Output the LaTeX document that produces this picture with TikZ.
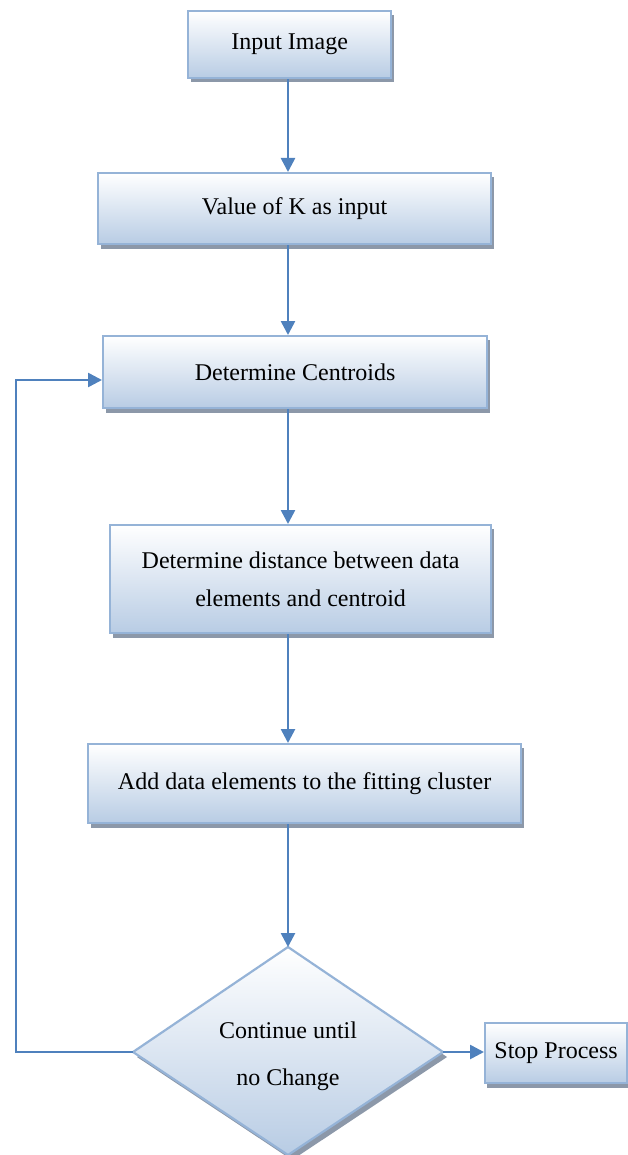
\documentclass[tikz,border=0pt]{standalone}
\usepackage{fontspec}
\setmainfont{Liberation Serif}
\usetikzlibrary{arrows.meta,shapes.geometric}
\definecolor{edgeblue}{HTML}{95B3D7}
\definecolor{fillbot}{HTML}{B8CCE4}
\definecolor{shadowgray}{HTML}{8C98A9}
\definecolor{flowblue}{HTML}{4F81BD}
\tikzset{
  stepbox/.style={draw=edgeblue, line width=2.2pt, top color=white, bottom color=fillbot,
    font=\fontsize{24}{38}\selectfont, align=center, inner sep=0pt, anchor=north west},
  boxshadow/.style={fill=shadowgray, draw=none},
  flow/.style={draw=flowblue, line width=2.6pt, -{Triangle[length=14pt,width=14pt]}},
  flowline/.style={draw=flowblue, line width=2.6pt}
}
\begin{document}
\begin{tikzpicture}[x=1pt,y=-1pt]
\useasboundingbox (0,0) rectangle (628,1155);
% drop shadows behind the boxes
\fill[boxshadow] (191,15) rectangle (394,82);
\fill[boxshadow] (101,177) rectangle (494,249);
\fill[boxshadow] (106,340) rectangle (490,413);
\fill[boxshadow] (113,529) rectangle (494,638);
\fill[boxshadow] (91,748) rectangle (524,828);
\fill[boxshadow] (487,1027) rectangle (631,1088);
\fill[boxshadow] (137,1057) -- (292,952) -- (447,1057) -- (292,1160) -- cycle;
% process boxes
\node[stepbox, minimum width=203pt, minimum height=67pt] (input) at (187,10) {Input Image};
\node[stepbox, minimum width=393pt, minimum height=71pt] (kval) at (97,172) {Value of K as input};
\node[stepbox, minimum width=384pt, minimum height=72pt] (cent) at (102,335) {Determine Centroids};
\node[stepbox, minimum width=381pt, minimum height=108pt] (dist) at (109,524) {Determine distance between data\\elements and centroid};
\node[stepbox, minimum width=433pt, minimum height=79pt] (add) at (87,743) {Add data elements to the fitting cluster};
\node[stepbox, minimum width=142pt, minimum height=60pt] (stop) at (484,1022) {Stop Process};
% decision
\draw[draw=edgeblue, line width=2.2pt, top color=white, bottom color=fillbot]
  (133,1052) coordinate (dl) -- (288,947) coordinate (dt) -- (443,1052) coordinate (dr) -- (288,1155) coordinate (db) -- cycle;
\node[font=\fontsize{24}{47}\selectfont, align=center] (cond) at (288,1056) {Continue until\\no Change};
% connectors
\draw[flow] (input.south -| 288,0) -- (kval.north -| 288,0);
\draw[flow] (kval.south -| 288,0) -- (cent.north -| 288,0);
\draw[flow] (cent.south -| 288,0) -- (dist.north -| 288,0);
\draw[flow] (dist.south -| 288,0) -- (add.north -| 288,0);
\draw[flow] (add.south -| 288,0) -- (dt);
\draw[flow] (dr) -- (stop.west |- dr);
\coordinate (loopbot) at (16,1052);
\coordinate (looptop) at (16,380);
\draw[flowline] (dl) -- (loopbot);
\draw[flow] (16,1053) -- (looptop) -- (cent.west |- looptop);
\end{tikzpicture}
\end{document}
